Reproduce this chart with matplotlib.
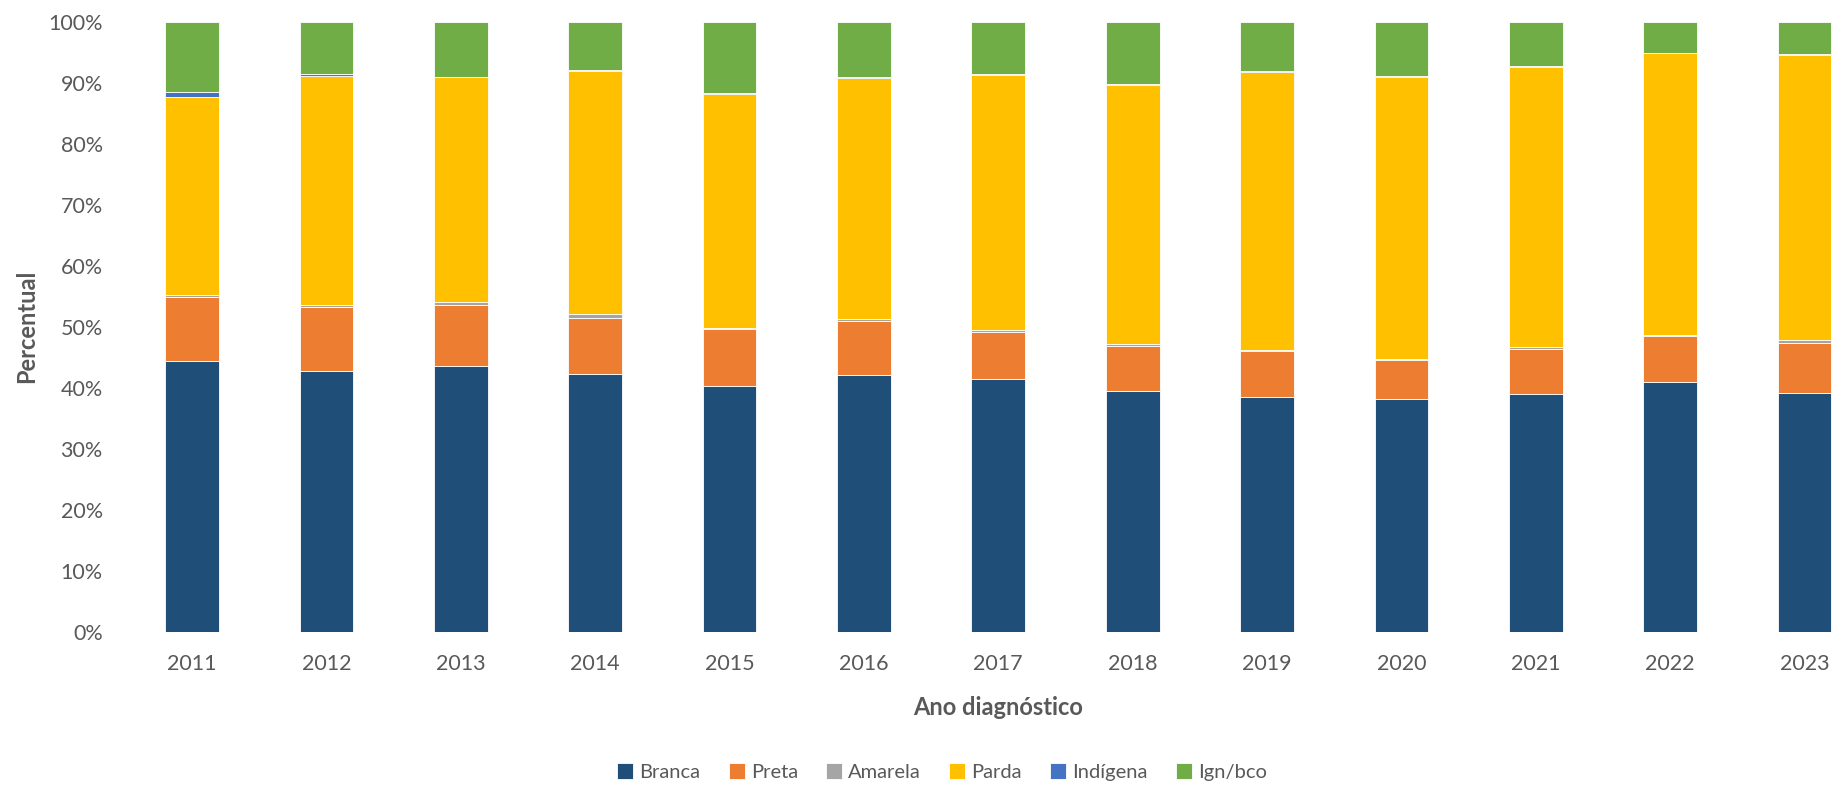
import matplotlib.pyplot as plt
from matplotlib.ticker import PercentFormatter
import numpy as np

plt.rcParams['font.family'] = ['Lato', 'DejaVu Sans']

anos = ["2011", "2012", "2013", "2014", "2015", "2016", "2017",
        "2018", "2019", "2020", "2021", "2022", "2023"]

branca = [44.4, 42.7, 43.5, 42.2, 40.2, 42.0, 41.4, 39.5, 38.5, 38.2, 39.0, 41.0, 39.1]
preta = [10.5, 10.6, 10.0, 9.3, 9.4, 9.0, 7.8, 7.4, 7.5, 6.3, 7.4, 7.4, 8.3]
amarela = [0.3, 0.2, 0.5, 0.5, 0.2, 0.3, 0.3, 0.2, 0.2, 0.2, 0.3, 0.2, 0.4]
parda = [32.4, 37.6, 36.9, 39.9, 38.4, 39.5, 41.7, 42.6, 45.6, 46.2, 45.9, 46.2, 46.7]
indigena = [0.9, 0.4, 0.1, 0.2, 0.05, 0.2, 0.3, 0.1, 0.1, 0.15, 0.1, 0.05, 0.15]
ign_bco = [11.5, 8.5, 9.0, 7.9, 11.75, 9.0, 8.5, 10.2, 8.1, 8.95, 7.3, 5.15, 5.35]

series = [("Branca", branca, "#1F4E79"),
          ("Preta", preta, "#ED7D31"),
          ("Amarela", amarela, "#A5A5A5"),
          ("Parda", parda, "#FFC000"),
          ("Indígena", indigena, "#4472C4"),
          ("Ign/bco", ign_bco, "#70AD47")]

txt = "#595959"

fig = plt.figure(figsize=(18.34, 7.86), dpi=100)
ax = fig.add_axes([125 / 1834, 1 - 631.6 / 786, 1 - 125 / 1834, (631.6 - 21.7) / 786])

x = np.arange(len(anos))
bottom = np.zeros(len(anos))
for nome, vals, cor in series:
    vals = np.array(vals)
    ax.bar(x, vals, 0.40, bottom=bottom, color=cor, label=nome,
           edgecolor="white", linewidth=0.6)
    bottom += vals

ax.set_xlim(-0.5, 12.22)
ax.set_ylim(0, 100)
ax.set_yticks(np.arange(0, 101, 10))
ax.yaxis.set_major_formatter(PercentFormatter(decimals=0))
ax.set_xticks(x)
ax.set_xticklabels(anos)
for s in ax.spines.values():
    s.set_visible(False)
ax.tick_params(axis="both", length=0, labelsize=15.5, colors=txt)
ax.tick_params(axis="y", pad=16)
ax.tick_params(axis="x", pad=16)

ax.set_xlabel("Ano diagnóstico", fontsize=17, fontweight="bold", color=txt)
ax.xaxis.set_label_coords(0.511, -0.105)
ax.set_ylabel("Percentual", fontsize=17, fontweight="bold", color=txt)
ax.yaxis.set_label_coords(-0.051, 0.5)

leg = fig.legend(loc="center", bbox_to_anchor=(942 / 1834, 1 - 772 / 786), ncol=6,
                 frameon=False, fontsize=14.5, handlelength=0.8, handleheight=0.8,
                 handletextpad=0.3, columnspacing=1.4)
for t in leg.get_texts():
    t.set_color(txt)

fig.savefig("out.png", dpi=100)
